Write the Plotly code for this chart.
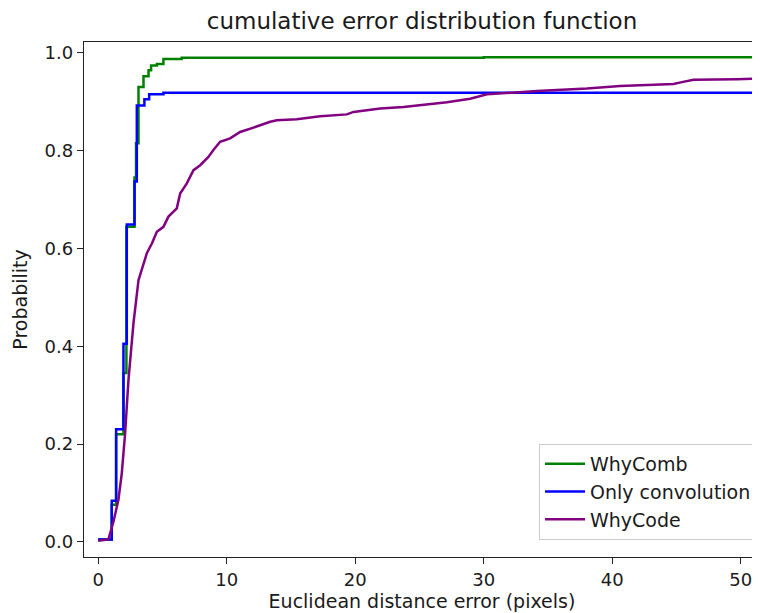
import plotly.graph_objects as go

# WhyComb (step CDF)
comb_x = [0, 1.06, 1.40, 1.97, 2.20, 2.83, 2.95, 3.14, 3.53, 3.92, 4.12, 4.57, 5.08, 6.5, 30, 52]
comb_y = [0.005, 0.076, 0.220, 0.345, 0.644, 0.745, 0.815, 0.930, 0.952, 0.964, 0.974, 0.977, 0.987, 0.990, 0.991, 0.991]

# Only convolution (step CDF)
conv_x = [0, 1.06, 1.40, 1.97, 2.23, 2.83, 3.01, 3.60, 3.97, 5.08, 52]
conv_y = [0.005, 0.084, 0.230, 0.405, 0.649, 0.737, 0.892, 0.905, 0.915, 0.918, 0.918]

# WhyCode (smooth CDF)
code_x = [0, 0.8, 1.19, 1.58, 1.84, 2.10, 2.36, 2.75, 3.14, 3.40, 3.79, 4.18, 4.57, 5.08, 5.47,
          6.12, 6.38, 6.90, 7.42, 7.94, 8.58, 8.97, 9.49, 10.27, 11.05, 12.09, 13.39, 13.90,
          15.46, 17.28, 19.35, 19.87, 21.95, 23.76, 27.14, 28.95, 30.25, 34.14, 38.03, 40.62,
          44.77, 45.42, 46.33, 49.70, 52]
code_y = [0.002, 0.005, 0.041, 0.086, 0.140, 0.222, 0.331, 0.447, 0.535, 0.556, 0.590, 0.610, 0.634,
          0.644, 0.665, 0.682, 0.712, 0.733, 0.760, 0.770, 0.787, 0.801, 0.818, 0.825, 0.838,
          0.847, 0.859, 0.862, 0.864, 0.870, 0.874, 0.879, 0.886, 0.889, 0.899, 0.906, 0.915,
          0.922, 0.927, 0.932, 0.936, 0.940, 0.945, 0.946, 0.948]

x_ticks = [0, 10, 20, 30, 40, 50]
y_ticks = [0.0, 0.2, 0.4, 0.6, 0.8, 1.0]

font = "DejaVu Sans"
txt = "#1a1a1a"

# the page body has an 8px default margin; figure sized to fit the 760x613 window
W, H = 752, 605

fig = go.Figure()
fig.add_trace(go.Scatter(x=comb_x, y=comb_y, mode="lines", name="WhyComb",
                         line=dict(color="#008000", width=2.5, shape="hv")))
fig.add_trace(go.Scatter(x=conv_x, y=conv_y, mode="lines", name="Only convolution",
                         line=dict(color="#0000ff", width=2.5, shape="hv")))
fig.add_trace(go.Scatter(x=code_x, y=code_y, mode="lines", name="WhyCode",
                         line=dict(color="#800080", width=2.5)))

fig.update_layout(
    width=W, height=H,
    margin=dict(l=76, r=0, t=34, b=56, autoexpand=False),
    paper_bgcolor="white", plot_bgcolor="white",
    font=dict(family=font, size=18, color=txt),
    title=dict(text="cumulative error distribution function", x=(76 + W) / 2 / W,
               xanchor="center", y=1 - 13 / H, yanchor="middle", automargin=False,
               font=dict(family=font, size=23, color=txt)),
    showlegend=True,
    legend=dict(x=0.9956, xanchor="right", y=0.033, yanchor="bottom",
                bgcolor="rgba(255,255,255,0.8)", bordercolor="#cccccc", borderwidth=1,
                font=dict(family=font, size=19, color=txt),
                itemwidth=40),
)
fig.update_xaxes(range=[-1.1, 51.5], tickvals=x_ticks, ticktext=[str(v) for v in x_ticks],
                 showgrid=False, zeroline=False, showline=True, linecolor="#222222", linewidth=1.3,
                 mirror=True, ticks="outside", ticklen=6, tickwidth=1.3, tickcolor="#222222",
                 automargin=False, tickfont=dict(family=font, size=18, color=txt),
                 title=dict(text="Euclidean distance error (pixels)", standoff=4,
                            font=dict(family=font, size=19, color=txt)))
fig.update_yaxes(range=[-0.031, 1.022], tickvals=y_ticks, ticktext=[f"{v:.1f}" for v in y_ticks],
                 showgrid=False, zeroline=False, showline=True, linecolor="#222222", linewidth=1.3,
                 mirror=False, ticks="outside", ticklen=6, tickwidth=1.3, tickcolor="#222222",
                 automargin=False, tickfont=dict(family=font, size=18, color=txt),
                 title=dict(text="Probability", standoff=11,
                            font=dict(family=font, size=19, color=txt)))

fig.write_html("out.html")
